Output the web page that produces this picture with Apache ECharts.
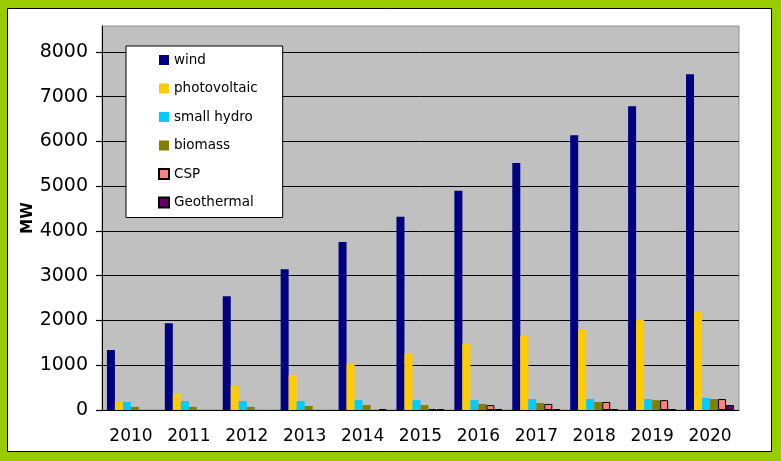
<!DOCTYPE html>
<html>
<head>
<meta charset="utf-8">
<script src="https://cdn.jsdelivr.net/npm/echarts@6/dist/echarts.min.js"></script>
<style>
html,body{margin:0;padding:0;background:#99CC00;}
#chart{width:781px;height:461px;}
</style>
</head>
<body>
<div id="chart"></div>
<script>
const years = ['2010','2011','2012','2013','2014','2015','2016','2017','2018','2019','2020'];
const wind = [1340, 1940, 2540, 3145, 3755, 4320, 4900, 5520, 6140, 6785, 7500];
const photovoltaic = [180, 360, 540, 780, 1035, 1265, 1475, 1660, 1810, 2010, 2190];
const smallHydro = [180, 200, 200, 200, 220, 220, 220, 245, 245, 245, 270];
const biomass = [70, 70, 70, 90, 110, 110, 135, 155, 180, 220, 245];
const csp = [0, 0, 0, 0, 0, 20, 110, 135, 180, 220, 245];
const geothermal = [0, 0, 0, 0, 20, 20, 20, 20, 20, 20, 110];

const FONT = 'DejaVu Sans';
const chart = echarts.init(document.getElementById('chart'));

function bar(name, data, color, border) {
  return {
    name: name, type: 'bar',
    data: data.map(v => v === 0 ? '-' : v),
    barGap: '0%', barCategoryGap: '17%',
    itemStyle: border ? {color: color, borderColor: '#000', borderWidth: 1} : {color: color},
    emphasis: {disabled: true},
    animation: false
  };
}

chart.setOption({
  animation: false,
  backgroundColor: '#99CC00',
  graphic: [{
    type: 'rect', z: -10, silent: true,
    shape: {x: 7.5, y: 8.5, width: 764, height: 443},
    style: {fill: '#ffffff', stroke: '#000000', lineWidth: 1}
  }],
  grid: {
    left: 102, right: 42, top: 26, bottom: 51,
    show: true, backgroundColor: '#C0C0C0', borderColor: '#909090', borderWidth: 1
  },
  legend: {
    orient: 'vertical', left: 126, top: 46,
    backgroundColor: '#ffffff', borderColor: '#000', borderWidth: 1,
    padding: [7, 25, 8, 32],
    itemWidth: 10, itemHeight: 10, itemGap: 14.5,
    icon: 'rect',
    selectedMode: false,
    textStyle: {fontFamily: FONT, fontSize: 13.5, color: '#000', lineHeight: 14},
    data: ['wind','photovoltaic','small hydro','biomass','CSP','Geothermal']
  },
  xAxis: {
    type: 'category', data: years,
    axisLine: {lineStyle: {color: '#000', width: 1}},
    axisTick: {length: 6, lineStyle: {color: '#000', width: 1.2}},
    axisLabel: {fontFamily: FONT, fontSize: 17, color: '#000', margin: 18}
  },
  yAxis: {
    type: 'value', min: 0, max: 8580, interval: 1000,
    name: 'MW', nameLocation: 'middle', nameGap: 66, nameRotate: 90, nameMoveOverlap: false,
    nameTextStyle: {fontFamily: FONT, fontSize: 15, fontWeight: 'bold', color: '#000'},
    axisLine: {show: true, lineStyle: {color: '#000', width: 1}},
    axisTick: {show: true, inside: false, length: 6, lineStyle: {color: '#000', width: 1.2}},
    axisLabel: {fontFamily: FONT, fontSize: 19, color: '#000', margin: 14, showMaxLabel: false,
      formatter: v => String(v)},
    splitLine: {show: true, showMaxLine: false, lineStyle: {color: '#000', width: 1}}
  },
  series: [
    bar('wind', wind, '#000080', false),
    bar('photovoltaic', photovoltaic, '#FFCC00', false),
    bar('small hydro', smallHydro, '#00CCFF', false),
    bar('biomass', biomass, '#808000', false),
    bar('CSP', csp, '#FF8080', true),
    bar('Geothermal', geothermal, '#660066', true)
  ]
});
</script>
</body>
</html>
